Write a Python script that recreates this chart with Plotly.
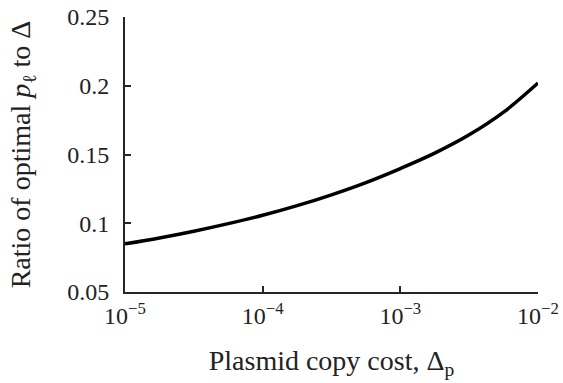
import plotly.graph_objects as go

# Data (log10 of plasmid copy cost, ratio)
log_cost = [-5.0, -4.75, -4.5, -4.25, -4.0, -3.75, -3.5, -3.25, -3.0, -2.75, -2.5, -2.25, -2.0]
ratio = [0.0850, 0.0893, 0.0942, 0.0997, 0.1058, 0.1128, 0.1207, 0.1296, 0.1398, 0.1510, 0.1643, 0.1808, 0.2020]
cost = [10 ** v for v in log_cost]

x_tickvals = [1e-5, 1e-4, 1e-3, 1e-2]
x_ticktext = ["10<sup>−5</sup>", "10<sup>−4</sup>", "10<sup>−3</sup>", "10<sup>−2</sup>"]
y_tickvals = [0.05, 0.1, 0.15, 0.2, 0.25]
y_ticktext = ["0.05", "0.1", "0.15", "0.2", "0.25"]

FONT = "Liberation Serif"
AXC = "#262626"

fig = go.Figure()
fig.add_trace(go.Scatter(x=cost, y=ratio, mode="lines",
                         line=dict(color="black", width=3.5, shape="spline"),
                         showlegend=False, hoverinfo="skip"))

fig.update_layout(
    width=563, height=383,
    margin=dict(l=125, r=25, t=17, b=91),
    paper_bgcolor="white", plot_bgcolor="white",
    font=dict(family=FONT, size=24, color="#222"),
    xaxis=dict(type="log", range=[-5, -2], tickvals=x_tickvals, ticktext=x_ticktext,
               showgrid=False, zeroline=False, showline=True, linecolor=AXC, linewidth=2,
               ticks="inside", ticklen=6, tickwidth=2, tickcolor=AXC,
               tickfont=dict(family=FONT, size=24), ticklabelstandoff=1,
               automargin=False,
               title=dict(text="Plasmid copy cost, Δ<sub>p</sub>", font=dict(family=FONT, size=28),
                          standoff=23)),
    yaxis=dict(range=[0.05, 0.25], tickvals=y_tickvals, ticktext=y_ticktext,
               showgrid=False, zeroline=False, showline=True, linecolor=AXC, linewidth=2,
               ticks="inside", ticklen=6, tickwidth=2, tickcolor=AXC,
               tickfont=dict(family=FONT, size=24), ticklabelstandoff=9,
               automargin=False,
               title=dict(text="Ratio of optimal <i>p</i><sub>ℓ</sub> to Δ", font=dict(family=FONT, size=28),
                          standoff=28)),
)

fig.write_html("out.html", config={"displayModeBar": False},
               post_script="document.body.style.margin='0';")
